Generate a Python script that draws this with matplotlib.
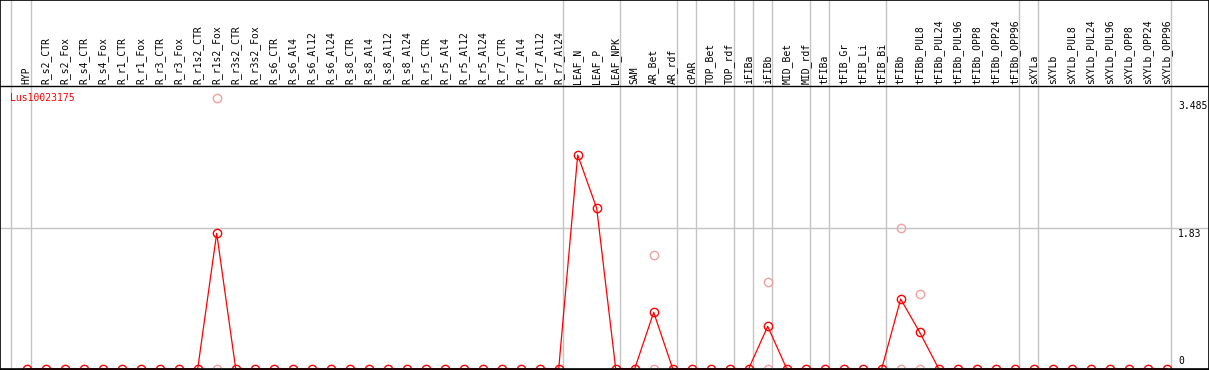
import matplotlib
matplotlib.use("Agg")
import matplotlib.pyplot as plt
import numpy as np

gene = "Lus10023175"

categories = ["HYP",
    "R_s2_CTR", "R_s2_Fox", "R_s4_CTR", "R_s4_Fox", "R_r1_CTR", "R_r1_Fox",
    "R_r3_CTR", "R_r3_Fox", "R_r1s2_CTR", "R_r1s2_Fox", "R_r3s2_CTR", "R_r3s2_Fox",
    "R_s6_CTR", "R_s6_Al4", "R_s6_Al12", "R_s6_Al24", "R_s8_CTR", "R_s8_Al4",
    "R_s8_Al12", "R_s8_Al24", "R_r5_CTR", "R_r5_Al4", "R_r5_Al12", "R_r5_Al24",
    "R_r7_CTR", "R_r7_Al4", "R_r7_Al12", "R_r7_Al24",
    "LEAF_N", "LEAF_P", "LEAF_NPK",
    "SAM", "AR_Bet", "AR_rdf",
    "cPAR",
    "TOP_Bet", "TOP_rdf",
    "iFIBa",
    "iFIBb",
    "MID_Bet", "MID_rdf",
    "tFIBa",
    "tFIB_Gr", "tFIB_Li", "tFIB_Bi",
    "tFIBb", "tFIBb_PUL8", "tFIBb_PUL24", "tFIBb_PUL96", "tFIBb_OPP8", "tFIBb_OPP24", "tFIBb_OPP96",
    "sXYLa",
    "sXYLb", "sXYLb_PUL8", "sXYLb_PUL24", "sXYLb_PUL96", "sXYLb_OPP8", "sXYLb_OPP24", "sXYLb_OPP96"]

# group sizes (for separators)
group_sizes = [1, 28, 3, 3, 1, 2, 1, 1, 2, 1, 3, 7, 1, 7]

# mean expression
values = [0.0,
    0.0, 0.0, 0.0, 0.0, 0.0, 0.0,
    0.0, 0.0, 0.0, 1.761, 0.0, 0.0,
    0.0, 0.0, 0.0, 0.0, 0.0, 0.0,
    0.0, 0.0, 0.0, 0.0, 0.0, 0.0,
    0.0, 0.0, 0.0, 0.0,
    2.779, 2.086, 0.0,
    0.0, 0.733, 0.0,
    0.0,
    0.0, 0.0,
    0.0,
    0.551,
    0.0, 0.0,
    0.0,
    0.0, 0.0, 0.0,
    0.906, 0.473, 0.0, 0.0, 0.0, 0.0, 0.0,
    0.0,
    0.0, 0.0, 0.0, 0.0, 0.0, 0.0, 0.0]

# replicate values (pale points)
rep_categories = ["R_r1s2_Fox", "AR_Bet", "iFIBb", "tFIBb", "tFIBb_PUL8"]
rep_high = [3.524, 1.475, 1.124, 1.826, 0.967]
rep_low = [0.0, 0.0, 0.0, 0.0, 0.0]

y_ticks = [0, 1.83, 3.485]
y_tick_labels = ["0", "1.83", "3.485"]

W, H = 1209, 370
fig = plt.figure(figsize=(W / 100, H / 100), dpi=100)
ax = fig.add_axes([0, 0, 1, 1])

# pixel mapping
x0_px, step_px = 26.7, 19.0
zero_row, k = 368.7, 76.9
def vrow(r):
    return (zero_row - r) / k

ax.set_xlim(-x0_px / step_px, (W - x0_px) / step_px)
ax.set_ylim(vrow(H), vrow(0))
ax.set_xticks([])
ax.set_yticks([])
for s in ax.spines.values():
    s.set_color("black")
    s.set_linewidth(1.2)

grey = "#c4c4c4"
# separators
bounds = np.cumsum(group_sizes) - 1
ax.axvline(-1 + 0.18, color=grey, lw=1, zorder=1)
for b in bounds:
    ax.axvline(b + 0.21, color=grey, lw=1, zorder=1)

# horizontal grid at 1.83
ax.axhline(1.83, color=grey, lw=1, zorder=1)
# header separator
ax.axhline(vrow(86), color="black", lw=1, zorder=3)

x = np.arange(len(categories))
ax.plot(x, values, color="#ff0000", lw=0.9, zorder=4)
ax.plot(x, values, linestyle="none", marker="o", markersize=6, markerfacecolor="none",
        markeredgecolor="#ff0000", markeredgewidth=1.0, zorder=5)

rep_x = [categories.index(c) for c in rep_categories]
ax.plot(rep_x, rep_high, linestyle="none", marker="o", markersize=6, markerfacecolor="none",
        markeredgecolor="#f0a0a0", markeredgewidth=1.0, zorder=3)
ax.plot(rep_x, rep_low, linestyle="none", marker="o", markersize=6, markerfacecolor="none",
        markeredgecolor="#f0a0a0", markeredgewidth=1.0, zorder=3)

ax.axhline(0, color="black", lw=1.2, zorder=6)

font = dict(family="DejaVu Sans Mono", fontsize=7)
for i, c in enumerate(categories):
    ax.text(i, vrow(84), c, rotation=90, ha="center", va="bottom", color="black", **font)

ax.text((10 - x0_px) / step_px, vrow(97.7), gene, ha="left", va="center", color="#ff0000", **font)

lab_x = (1178 - x0_px) / step_px
ax.text(lab_x, vrow(366), y_tick_labels[0], ha="left", va="bottom", **font)
ax.text(lab_x, y_ticks[1] - 0.01, y_tick_labels[1], ha="left", va="top", **font)
ax.text(lab_x, y_ticks[2] - 0.01, y_tick_labels[2], ha="left", va="top", **font)

fig.savefig("out.png", dpi=100)
